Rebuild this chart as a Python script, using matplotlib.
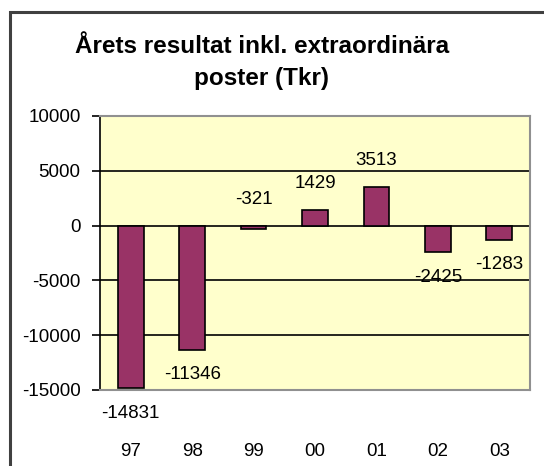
import matplotlib.pyplot as plt
from matplotlib.patches import Rectangle

years = ['97', '98', '99', '00', '01', '02', '03']
result = [-14831, -11346, -321, 1429, 3513, -2425, -1283]
y_ticks = [-15000, -10000, -5000, 0, 5000, 10000]
title_lines = ['Årets resultat inkl. extraordinära', 'poster (Tkr)']

plt.rcParams['font.family'] = ['Liberation Sans', 'DejaVu Sans']

fig = plt.figure(figsize=(5.44, 4.66), dpi=100)

# outer chart border (runs off the right and bottom edge)
fig.patches.append(Rectangle((9.5 / 544, -0.1), 1.2, (466 - 11.5) / 466 + 0.1,
                             transform=fig.transFigure, fill=False,
                             edgecolor='#404040', linewidth=2.2))

# title, one text per line so the baselines sit where they should
for line, base in zip(title_lines, [53, 85]):
    fig.text(262 / 544, 1 - base / 466, line, ha='center', va='baseline',
             fontsize=17.5, fontweight='bold')

ax = fig.add_axes([100 / 544, 76 / 466, 430 / 544, 274 / 466])
ax.set_facecolor('#FFFFCC')

x = list(range(len(years)))
ax.bar(x, result, width=0.42, color='#993366', edgecolor='black', linewidth=1.2, zorder=3)

for xi, v in zip(x, result):
    if v > -1000:
        ax.annotate(str(v), (xi, max(v, 0)), xytext=(0, 19), textcoords='offset points',
                    ha='center', va='center', fontsize=13.5, zorder=4)
    else:
        ax.annotate(str(v), (xi, v), xytext=(0, -18), textcoords='offset points',
                    ha='center', va='center', fontsize=13.5, zorder=4, annotation_clip=False)

ax.set_xlim(-0.5, len(years) - 0.5)
ax.set_ylim(-15000, 10000)
ax.set_yticks(y_ticks)
ax.set_yticklabels([str(t) for t in y_ticks])
ax.set_xticks(x)
ax.set_xticklabels(years)
ax.tick_params(axis='y', length=6, width=1.2, pad=8, labelsize=13.5, direction='out')
ax.tick_params(axis='x', length=0, pad=38, labelsize=13.5)

for t in y_ticks[1:-1]:
    ax.axhline(t, color='black', linewidth=1.2, zorder=1)

for side in ['top', 'right', 'bottom']:
    ax.spines[side].set_color('#909090')
    ax.spines[side].set_linewidth(1.5)
ax.spines['left'].set_color('black')
ax.spines['left'].set_linewidth(1.2)

fig.savefig('out.png', dpi=100)
